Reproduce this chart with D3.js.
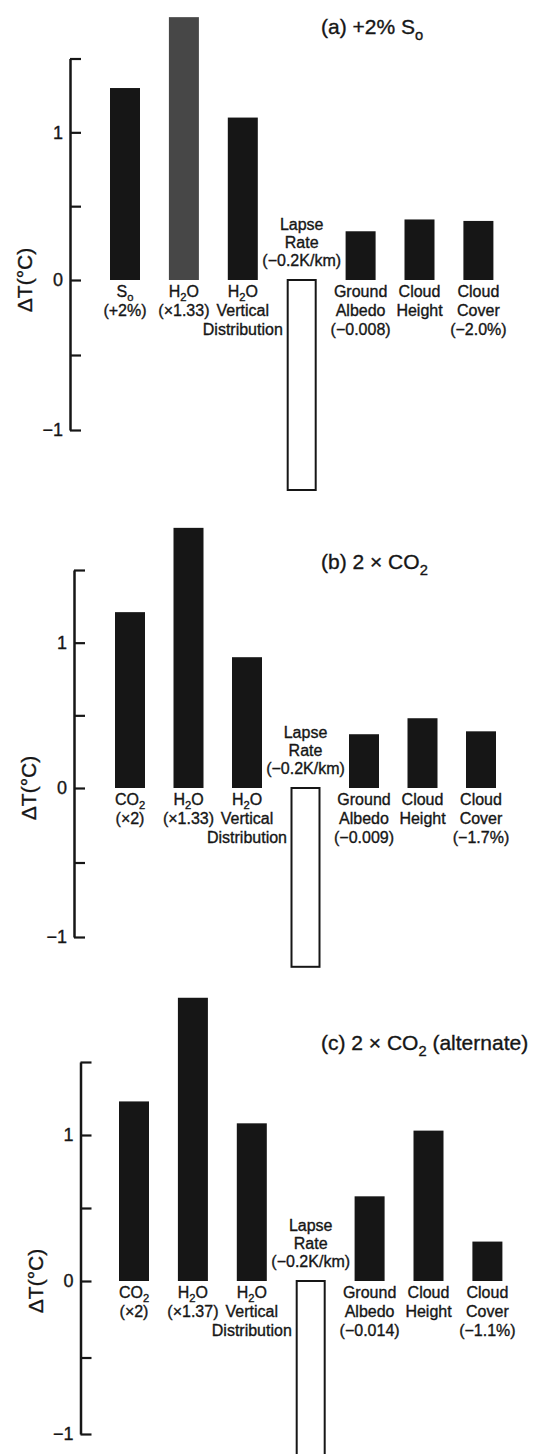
<!DOCTYPE html>
<html><head><meta charset="utf-8">
<script src="https://cdn.jsdelivr.net/npm/d3@7"></script>
<style>
body{margin:0;background:#fff}
svg{display:block}
text{font-family:"Liberation Sans",Arial,Helvetica,sans-serif;fill:#161616;stroke:#161616;stroke-width:0.35px}
</style>
</head><body>
<svg id="chart" width="533" height="1454"></svg>
<script>
// ---------------- data ----------------
const categoryKeys = ["forcing","h2o","h2oVert","lapse","albedo","cloudHeight","cloudCover"];
const panelTitles = ["(a) +2% S_o", "(b) 2 × CO_2", "(c) 2 × CO_2 (alternate)"];

const valuesA = [1.30, 1.78, 1.10, -1.40, 0.33, 0.41, 0.40];
const valuesB = [1.21, 1.79, 0.90, -1.20, 0.37, 0.48, 0.39];
const valuesC = [1.23, 1.94, 1.08, -1.30, 0.58, 1.03, 0.27];

const labelsA = [["S_o","(+2%)"],["H_2O","(×1.33)"],["H_2O","Vertical","Distribution"],["Lapse","Rate","(−0.2K/km)"],["Ground","Albedo","(−0.008)"],["Cloud","Height"],["Cloud","Cover","(−2.0%)"]];
const labelsB = [["CO_2","(×2)"],["H_2O","(×1.33)"],["H_2O","Vertical","Distribution"],["Lapse","Rate","(−0.2K/km)"],["Ground","Albedo","(−0.009)"],["Cloud","Height"],["Cloud","Cover","(−1.7%)"]];
const labelsC = [["CO_2","(×2)"],["H_2O","(×1.37)"],["H_2O","Vertical","Distribution"],["Lapse","Rate","(−0.2K/km)"],["Ground","Albedo","(−0.014)"],["Cloud","Height"],["Cloud","Cover","(−1.1%)"]];

const tickValues = [-1, -0.5, 0, 0.5, 1, 1.5];
const tickText   = ["−1", "", "0", "", "1", ""];
const yAxisTitle = "ΔT(°C)";

// ---------------- layout / style ----------------
const layout = [
  {values: valuesA, labels: labelsA, title: panelTitles[0], axisX: 70,   yRange: [430, 280, 58.5],   c0: 125, step: 58.9, titleY: 34,   grayIndex: 1},
  {values: valuesB, labels: labelsB, title: panelTitles[1], axisX: 74,   yRange: [937, 788, 570],    c0: 130, step: 58.5, titleY: 569,  grayIndex: -1},
  {values: valuesC, labels: labelsC, title: panelTitles[2], axisX: 80.5, yRange: [1434, 1281, 1062], c0: 134, step: 58.9, titleY: 1050, grayIndex: -1}
];
const barW = 30;
const ink = "#161616";
const labelFS = 16, titleFS = 21, tickFS = 18, axisTitleFS = 21;

const svg = d3.select("#chart");

function rich(sel, str, fs) {
  const parts = str.split(/(_.)/).filter(p => p.length);
  let shifted = false;
  parts.forEach(p => {
    if (p[0] === "_") {
      sel.append("tspan").attr("font-size", fs * 0.7).attr("dy", fs * 0.28).text(p[1]);
      shifted = true;
    } else {
      const t = sel.append("tspan").text(p);
      if (shifted) { t.attr("dy", -fs * 0.28); shifted = false; }
    }
  });
}

layout.forEach(P => {
  const g = svg.append("g");
  const y = d3.scaleLinear().domain([-1, 0, 1.5]).range(P.yRange);
  const x = d3.scaleBand().domain(categoryKeys)
    .range([P.c0 - barW/2, P.c0 - barW/2 + 6*P.step + barW])
    .paddingInner(1 - barW/P.step).paddingOuter(0);

  // bars
  g.selectAll("rect.bar").data(P.values).join("rect")
    .attr("class", "bar")
    .attr("x", (d, i) => x(categoryKeys[i]) + (d < 0 ? 1 : 0))
    .attr("width", d => d < 0 ? x.bandwidth() - 2 : x.bandwidth())
    .attr("y", d => Math.min(y(d), y(0)))
    .attr("height", d => Math.abs(y(d) - y(0)))
    .attr("fill", (d, i) => d < 0 ? "#fff" : (i === P.grayIndex ? "#474747" : ink))
    .attr("stroke", d => d < 0 ? ink : "none")
    .attr("stroke-width", 2);

  // axis
  const axis = d3.axisLeft(y).tickValues(tickValues)
    .tickSizeInner(-11).tickSizeOuter(0).tickPadding(7)
    .tickFormat((d, i) => tickText[i]);
  const ag = g.append("g").attr("transform", `translate(${P.axisX},0)`).call(axis);
  ag.select(".domain").attr("stroke", ink).attr("stroke-width", 2.5);
  ag.selectAll(".tick line").attr("stroke", ink).attr("stroke-width", 2.2);
  ag.selectAll(".tick text").attr("font-size", tickFS)
    .attr("font-family", '"Liberation Sans",Arial,sans-serif').attr("fill", ink);

  // y axis title
  g.append("text")
    .attr("transform", `translate(${P.axisX - 45},${y(0)}) rotate(-90)`)
    .attr("text-anchor", "middle").attr("dy", "0.35em")
    .attr("font-size", axisTitleFS).text(yAxisTitle);

  // panel title
  const t = g.append("text").attr("x", 321).attr("y", P.titleY).attr("font-size", titleFS);
  rich(t, P.title, titleFS);

  // category labels
  P.labels.forEach((lines, i) => {
    const cx = x(categoryKeys[i]) + x.bandwidth() / 2;
    const v = P.values[i];
    const n = lines.length;
    lines.forEach((ln, j) => {
      const ly = v < 0 ? y(0) - 20 - (n - 1 - j) * 18 : y(0) + 11 + j * 19;
      const tx = g.append("text").attr("x", cx).attr("y", ly)
        .attr("dy", "0.35em").attr("text-anchor", "middle").attr("font-size", labelFS);
      rich(tx, ln, labelFS);
    });
  });
});
</script>
</body></html>
